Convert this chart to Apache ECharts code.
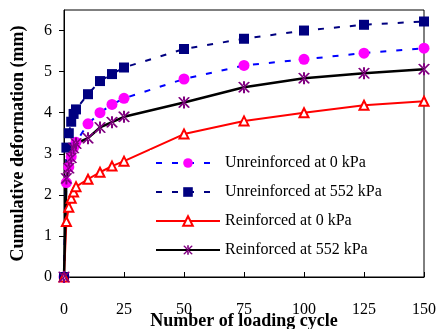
<!DOCTYPE html>
<html>
<head>
<meta charset="utf-8">
<script src="https://cdn.jsdelivr.net/npm/echarts@6/dist/echarts.min.js"></script>
<style>
    html, body { margin: 0; padding: 0; background: #fff; }
    #chart { width: 439px; height: 329px; }
</style>
</head>
<body>
<div id="chart"></div>
<script>
// loading cycles
var cycles = [0, 1, 2, 3, 4, 5, 10, 15, 20, 25, 50, 75, 100, 125, 150];

// cumulative deformation (mm)
var unreinf0 = [0, 2.3, 2.68, 2.93, 3.15, 3.28, 3.73, 4.0, 4.2, 4.35, 4.82, 5.15, 5.3, 5.45, 5.57];
var unreinf552 = [0, 3.15, 3.5, 3.78, 3.97, 4.08, 4.45, 4.77, 4.94, 5.1, 5.55, 5.8, 6.0, 6.14, 6.22];
var reinf0 = [0, 1.35, 1.7, 1.92, 2.07, 2.2, 2.38, 2.55, 2.7, 2.82, 3.48, 3.8, 4.0, 4.18, 4.28];
var reinf552 = [0, 2.4, 2.65, 2.9, 3.14, 3.25, 3.38, 3.64, 3.77, 3.9, 4.25, 4.62, 4.84, 4.96, 5.06];

var legendNames = [
    "Unreinforced at 0 kPa",
    "Unreinforced at 552 kPa",
    "Reinforced at 0 kPa",
    "Reinforced at 552 kPa"
];

var serif = "'Liberation Serif', 'Times New Roman', serif";

// asterisk marker
var starPath = "path://M9 0 L11 0 L11 20 L9 20 Z " +
    "M4.13 1.84 L14.13 19.16 L15.87 18.16 L5.87 0.84 Z " +
    "M4.13 18.16 L14.13 0.84 L15.87 1.84 L5.87 19.16 Z";

function pairs(ys) {
    return cycles.map(function(c, i) {
        return [c, ys[i]];
    });
}

var myChart = echarts.init(document.getElementById("chart"));

var option = {
    animation: false,
    backgroundColor: "#fff",
    textStyle: { fontFamily: serif },
    grid: {
        left: 64,
        right: 15,
        top: 10,
        bottom: 52,
        outerBoundsMode: "none",
        containLabel: false,
        show: true,
        borderColor: "#000",
        borderWidth: 1
    },
    legend: {
        orient: "vertical",
        left: 150,
        top: 150,
        padding: 5,
        itemWidth: 64,
        itemHeight: 12,
        itemGap: 13,
        backgroundColor: "#fff",
        textStyle: {
            fontFamily: serif,
            fontSize: 16,
            color: "#000"
        },
        data: legendNames
    },
    xAxis: {
        type: "value",
        min: 0,
        max: 150,
        interval: 25,
        name: "Number of loading cycle",
        nameLocation: "middle",
        nameGap: 35,
        nameMoveOverlap: false,
        nameTextStyle: {
            fontFamily: serif,
            fontWeight: "bold",
            fontSize: 18,
            color: "#000"
        },
        axisLine: { lineStyle: { color: "#000", width: 1 } },
        axisTick: { inside: true, length: 5, lineStyle: { color: "#000" } },
        axisLabel: {
            margin: 25,
            fontFamily: serif,
            fontSize: 16,
            color: "#000"
        },
        splitLine: { show: false }
    },
    yAxis: {
        type: "value",
        min: 0,
        max: 6.5,
        interval: 1,
        name: "Cumulative deformation (mm)",
        nameLocation: "middle",
        nameGap: 37,
        nameMoveOverlap: false,
        nameTextStyle: {
            fontFamily: serif,
            fontWeight: "bold",
            fontSize: 18,
            color: "#000"
        },
        axisLine: { show: true, lineStyle: { color: "#000", width: 1 } },
        axisTick: { show: true, length: 5, lineStyle: { color: "#000" } },
        axisLabel: {
            margin: 12,
            fontFamily: serif,
            fontSize: 16,
            color: "#000",
            showMaxLabel: false
        },
        splitLine: { show: false }
    },
    series: [
        {
            name: legendNames[0],
            type: "line",
            data: pairs(unreinf0),
            symbol: "circle",
            symbolSize: 11,
            itemStyle: { color: "#FF00FF" },
            lineStyle: { color: "#0000FF", width: 2, type: [6, 10] }
        },
        {
            name: legendNames[1],
            type: "line",
            data: pairs(unreinf552),
            symbol: "rect",
            symbolSize: 10,
            itemStyle: { color: "#000080" },
            lineStyle: { color: "#000080", width: 2, type: [6, 10] }
        },
        {
            name: legendNames[2],
            type: "line",
            data: pairs(reinf0),
            symbol: "emptyTriangle",
            symbolSize: 9,
            itemStyle: { color: "#FF0000", borderWidth: 1 },
            lineStyle: { color: "#FF0000", width: 2 }
        },
        {
            name: legendNames[3],
            type: "line",
            data: pairs(reinf552),
            symbol: starPath,
            symbolSize: 12,
            itemStyle: { color: "#800080" },
            lineStyle: { color: "#000", width: 2.5 }
        }
    ]
};

myChart.setOption(option);
</script>
</body>
</html>
